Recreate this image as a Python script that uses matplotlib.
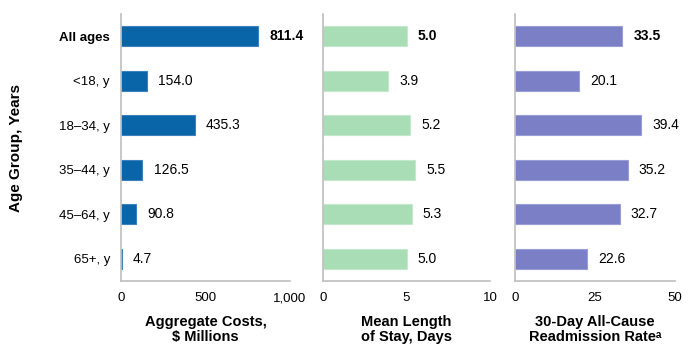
import matplotlib.pyplot as plt

plt.rcParams['font.family'] = ['Liberation Sans', 'DejaVu Sans']

# === Data ===
age_groups = ['All ages', '<18, y', '18–34, y', '35–44, y', '45–64, y', '65+, y']
costs = [811.4, 154.0, 435.3, 126.5, 90.8, 4.7]
stay_days = [5.0, 3.9, 5.2, 5.5, 5.3, 5.0]
readmit_rate = [33.5, 20.1, 39.4, 35.2, 32.7, 22.6]

panels = [
    dict(values=costs, color='#0A64A8', edge='#3C82BE', xmax=1000, ticks=[0, 500, 1000],
         ticklabels=['0', '500', '1,000'], label='Aggregate Costs,\n\\$ Millions',
         pos=[0.1739, 0.2017, 0.2428, 0.7585]),
    dict(values=stay_days, color='#A8DDB5', edge='#C3E8CC', xmax=10, ticks=[0, 5, 10],
         ticklabels=['0', '5', '10'], label='Mean Length\nof Stay, Days',
         pos=[0.4641, 0.2017, 0.2400, 0.7585]),
    dict(values=readmit_rate, color='#7A7FC6', edge='#9A9ED6', xmax=50, ticks=[0, 25, 50],
         ticklabels=['0', '25', '50'], label='30-Day All-Cause\nReadmission Rate\u1d43',
         pos=[0.7400, 0.2017, 0.2299, 0.7585]),
]

fig = plt.figure(figsize=(6.96, 3.52), dpi=100)
ypos = list(range(len(age_groups)))

for i, p in enumerate(panels):
    ax = fig.add_axes(p['pos'])
    ax.barh(ypos, p['values'], height=0.45, color=p['color'], edgecolor=p['edge'], linewidth=0.8)
    ax.set_ylim(len(age_groups) - 0.5, -0.5)
    ax.set_xlim(0, p['xmax'])
    ax.set_xticks(p['ticks'])
    ax.set_xticklabels(p['ticklabels'], fontsize=9.5)
    ax.tick_params(length=0, pad=8)
    for side in ['top', 'right']:
        ax.spines[side].set_visible(False)
    for side in ['left', 'bottom']:
        ax.spines[side].set_color('#BFBFBF')
        ax.spines[side].set_linewidth(1.2)

    # value labels, a few points right of the bar end
    for j, v in enumerate(p['values']):
        ax.annotate(f'{v:.1f}', (v, j), xytext=(8, 0), textcoords='offset points',
                    va='center', ha='left', fontsize=10,
                    fontweight='bold' if j == 0 else 'normal')

    ax.set_xlabel(p['label'], fontsize=10.5, fontweight='bold', labelpad=8, linespacing=1.1)

    if i == 0:
        ax.set_yticks(ypos)
        ax.set_yticklabels(age_groups, fontsize=9.5)
        ax.get_yticklabels()[0].set_fontweight('bold')
        ax.set_ylabel('Age Group, Years', fontsize=11, fontweight='bold', labelpad=26)
    else:
        ax.set_yticks([])

fig.savefig('out.png', dpi=100)
